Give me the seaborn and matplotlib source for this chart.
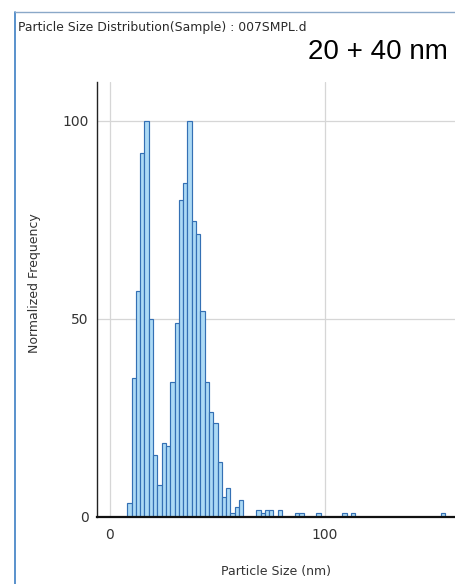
import numpy as np
import pandas as pd
import matplotlib
matplotlib.use("Agg")
import matplotlib.pyplot as plt
from matplotlib.lines import Line2D
import seaborn as sns

# ---- data (bin centres in nm, 2 nm wide bins) ----
size_nm = [9, 11, 13, 15, 17, 19, 21, 23, 25, 27, 29, 31, 33, 35, 37, 39, 41,
           43, 45, 47, 49, 51, 53, 55, 57, 59, 61,
           69, 71, 73, 75, 79, 87, 89, 97, 109, 113, 155]
norm_freq = [3.5, 35, 57, 92, 100, 50, 15.7, 8, 18.8, 18, 34, 49, 80, 84.4, 100, 74.8, 71.5,
             52, 34, 26.6, 23.7, 14, 5, 7.3, 1, 2.6, 4.3,
             1.7, 1.0, 1.7, 1.7, 1.7, 1.0, 1.0, 1.0, 1.0, 1.0, 1.0]
x_ticks = [0, 100]
y_ticks = [0, 50, 100]
title_text = "Particle Size Distribution(Sample) : 007SMPL.d"
annot_text = "20 + 40 nm"
x_label = "Particle Size (nm)"
y_label = "Normalized Frequency"

df = pd.DataFrame({"size": size_nm, "freq": norm_freq})

sns.set_style("white")
plt.rcParams["font.family"] = ["DejaVu Sans"]

W, H = 455, 584
fig = plt.figure(figsize=(W / 100, H / 100), dpi=100)
ax_w = (W - 97) / W
ax = fig.add_axes([97 / W, 1 - 517 / H, ax_w, (517 - 82) / H])

sns.histplot(data=df, x="size", weights="freq", binwidth=2, binrange=(8, 158),
             color="#acdaf5", edgecolor="#3470b4", linewidth=0.85, alpha=1.0,
             ax=ax, zorder=3)

ax.set_xlim(-13 / 2.15, 345 / 2.15)
ax.set_ylim(0, 435 / 3.96)
ax.set_xticks(x_ticks)
ax.set_yticks(y_ticks)
for xv in x_ticks:
    ax.axvline(xv, color="#d6d6d6", lw=0.9, zorder=1)
for yv in y_ticks[1:]:
    ax.axhline(yv, color="#d6d6d6", lw=0.9, zorder=1)

for s in ["top", "right"]:
    ax.spines[s].set_visible(False)
ax.spines["left"].set_color("#222222")
ax.spines["left"].set_linewidth(1.0)
ax.spines["bottom"].set_color("#111111")
ax.spines["bottom"].set_linewidth(1.6)
ax.spines["bottom"].set_zorder(5)
ax.tick_params(axis="both", direction="out", length=4, width=1, color="#222222",
               labelsize=10, labelcolor="#333333", pad=2)
ax.tick_params(axis="x", length=5, pad=3)
ax.set_xlabel(x_label, fontsize=9, color="#333333")
ax.set_ylabel(y_label, fontsize=9, color="#333333")
# place labels by pixel position
ax.xaxis.set_label_coords((276 - 97) / (W - 97), -(572 - 517) / 435)
ax.yaxis.set_label_coords((35 - 97) / (W - 97), (517 - 283) / 435)
ax.xaxis.label.set_va("center")
ax.yaxis.label.set_va("center")

# window frame and header
fig.add_artist(Line2D([15 / W, 15 / W], [0, 1 - 12 / H], color="#3d7fc4", lw=1.2))
fig.add_artist(Line2D([15 / W, 1], [1 - 12 / H, 1 - 12 / H], color="#8aa8c8", lw=1.0))
fig.text(18 / W, 1 - 27 / H, title_text, fontsize=8.9, color="#2a2a2a",
         ha="left", va="center")
fig.text(308 / W, 1 - 52 / H, annot_text, fontsize=20, color="black",
         family=["Liberation Sans", "DejaVu Sans"], ha="left", va="center")

fig.savefig("out.png", dpi=100)
